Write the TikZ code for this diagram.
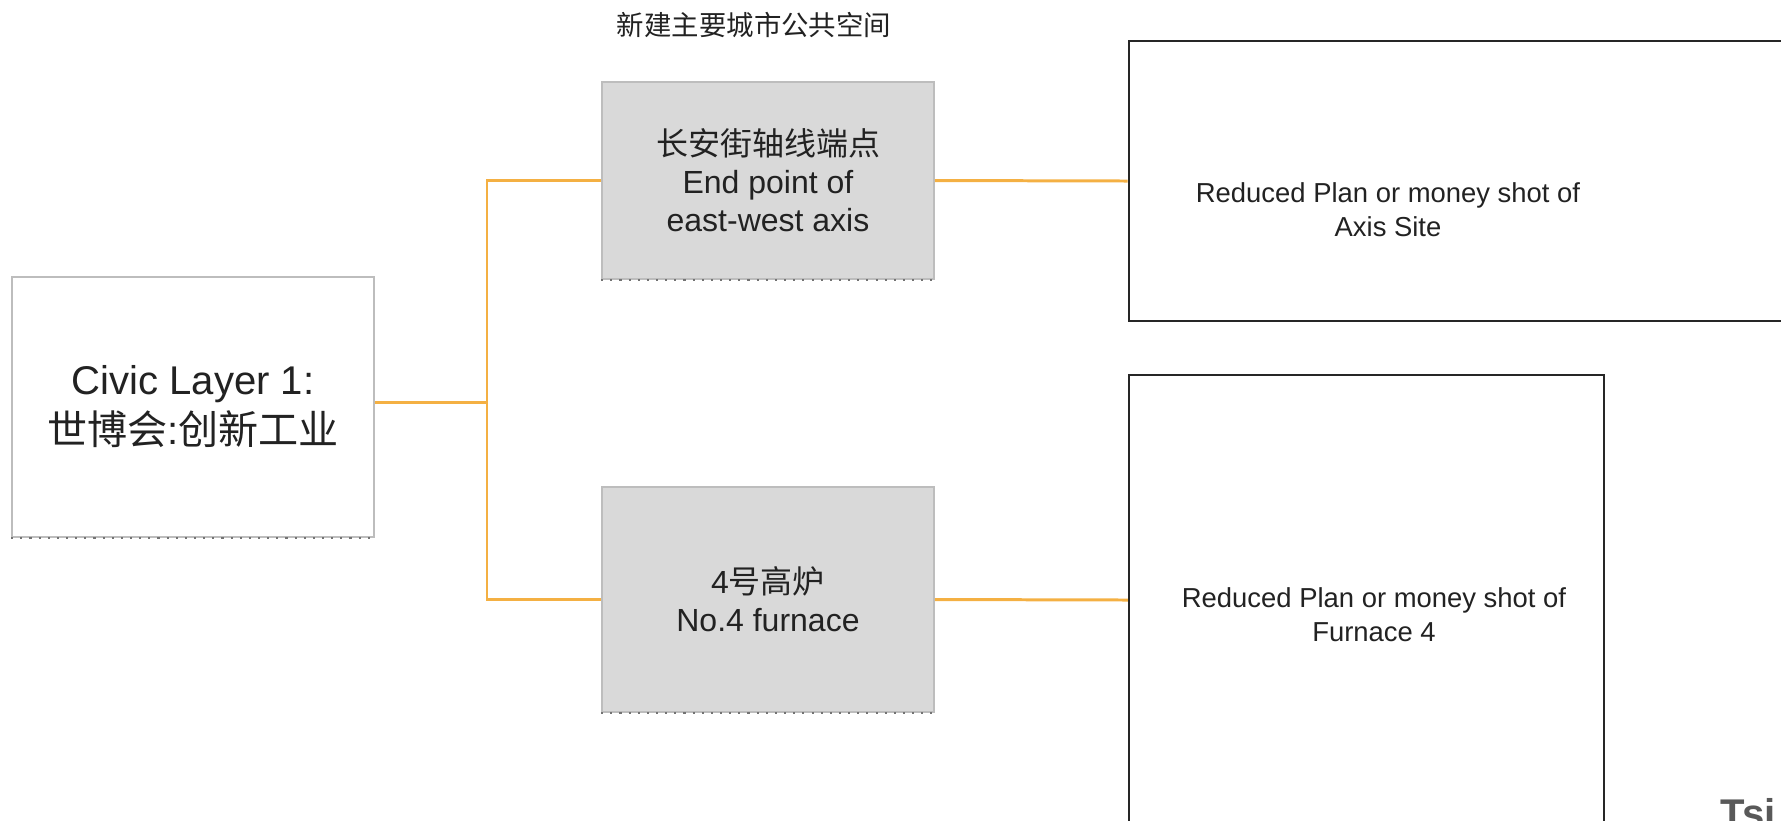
\documentclass[tikz,border=0pt]{standalone}
\usepackage{fontspec}
\setmainfont{Liberation Sans}
\newfontfamily\cjk{Noto Sans CJK SC}
\definecolor{branchorange}{HTML}{F4B043}
\definecolor{boxgray}{HTML}{D9D9D9}
\definecolor{rimgray}{HTML}{BDBDBD}
\definecolor{inkgray}{HTML}{222222}
\begin{document}
\begin{tikzpicture}[x=0.01cm, y=-0.01cm,
        civicbox/.style={draw=rimgray, fill=white, inner sep=0pt, align=center, text=inkgray,
            minimum width=3.62cm, minimum height=2.6cm, font=\fontsize{11.4}{14.2}\selectfont},
        sitebox/.style={draw=rimgray, fill=boxgray, inner sep=0pt, align=center, text=inkgray,
            minimum width=3.32cm, font=\fontsize{9.1}{10.8}\selectfont},
        shotbox/.style={draw=black!85, line width=0.6pt, inner sep=0pt},
        shottext/.style={align=center, text=inkgray, inner sep=0pt, font=\fontsize{7.8}{9.7}\selectfont},
        branch/.style={draw=branchorange, line width=0.85pt},
        rimline/.style={draw=black!55, dotted, line width=0.6pt},
    ]
    \useasboundingbox (0,0) rectangle (1781,820);
    \clip (0,0) rectangle (1781,820);

    \node[text=inkgray, font=\fontsize{7.8}{9}\selectfont\cjk] (caption) at (754,25) {新建主要城市公共空间};

    \node[civicbox] (civic) at (193,407) {Civic Layer 1:\\{\cjk 世博会}:{\cjk 创新工业}};
    \draw[rimline] (civic.south west) -- (civic.south east);

    \node[sitebox, minimum height=1.97cm] (axisbox) at (768,180.5)
        {{\cjk 长安街轴线端点}\\End point of\\east-west axis};
    \draw[rimline] (axisbox.south west) -- (axisbox.south east);

    \node[sitebox, minimum height=2.25cm] (furnacebox) at (768,599.5)
        {4{\cjk 号高炉}\\No.4 furnace};
    \draw[rimline] (furnacebox.south west) -- (furnacebox.south east);

    \node[shotbox, minimum width=7.71cm, minimum height=2.8cm] (axisshot) at (1514.5,181) {};
    \node[shottext] (axistext) at (1388,210) {Reduced Plan or money shot of\\Axis Site};

    \node[shotbox, minimum width=4.75cm, minimum height=4.5cm] (furnshot) at (1366.5,600) {};
    \node[shottext] (furntext) at (1374,614.5) {Reduced Plan or money shot of\\Furnace 4};

    % connectors
    \coordinate (hub) at (487,402);
    \draw[branch] (civic.east |- hub) -- (hub);
    \draw[branch] (axisbox.west) -| (hub |- furnacebox.west) -- (furnacebox.west);
    \draw[branch] (axisbox.east) -- (axisshot.west);
    \draw[branch] (furnacebox.east) -- (furnshot.west);

    \node[anchor=base west, inner sep=0pt, text=black!65, font=\fontsize{11.4}{13}\selectfont\bfseries] (brand) at (1720,827) {Tsi};
\end{tikzpicture}
\end{document}
